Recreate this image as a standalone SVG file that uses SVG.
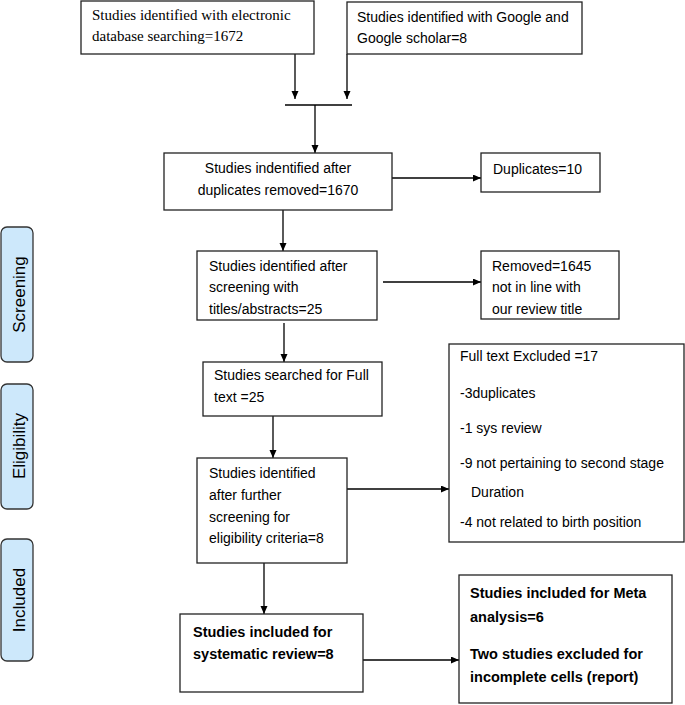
<svg xmlns="http://www.w3.org/2000/svg" width="685" height="705" viewBox="0 0 685 705">
<style>
.box{fill:#fff;stroke:#222;stroke-width:1.3}
.lbl{fill:#cde8fb;stroke:#333;stroke-width:1.3}
.t{font-family:"Liberation Sans",Arial,sans-serif;font-size:14px;fill:#000}
.s{font-family:"Liberation Serif","Times New Roman",serif;font-size:15px;fill:#000}
.b{font-family:"Liberation Sans",Arial,sans-serif;font-size:14.5px;font-weight:bold;fill:#000}
.side{font-family:"Liberation Sans",Arial,sans-serif;font-size:17px;fill:#000}
.c{fill:none;stroke:#000;stroke-width:1.3}
</style>
<defs>
<marker id="ah" markerUnits="userSpaceOnUse" markerWidth="9" markerHeight="8" refX="8" refY="3.5" orient="auto">
<path d="M0,0 L8,3.5 L0,7 z" fill="#000"/>
</marker>
</defs>
<rect width="685" height="705" fill="#fff"/>
<g id="side-labels">
<g id="lbl-screening"><rect class="lbl" x="1" y="227" width="32" height="135" rx="6"/><text class="side" transform="translate(25,294.5) rotate(-90)" text-anchor="middle">Screening</text></g>
<g id="lbl-eligibility"><rect class="lbl" x="1" y="384" width="32" height="125" rx="6"/><text class="side" transform="translate(25,446) rotate(-90)" text-anchor="middle">Eligibility</text></g>
<g id="lbl-included"><rect class="lbl" x="1" y="539" width="32" height="122" rx="6"/><text class="side" transform="translate(25,600) rotate(-90)" text-anchor="middle">Included</text></g>
</g>
<g id="connectors">
<line class="c" x1="295" y1="54" x2="295" y2="99" marker-end="url(#ah)"/>
<line class="c" x1="347" y1="54" x2="347" y2="99" marker-end="url(#ah)"/>
<line class="c" x1="285" y1="105" x2="352" y2="105"/>
<line class="c" x1="315" y1="105" x2="315" y2="153" marker-end="url(#ah)"/>
<line class="c" x1="392" y1="178" x2="481" y2="178" marker-end="url(#ah)"/>
<line class="c" x1="283" y1="210" x2="283" y2="251" marker-end="url(#ah)"/>
<line class="c" x1="383" y1="282" x2="481" y2="282" marker-end="url(#ah)"/>
<line class="c" x1="284" y1="323" x2="284" y2="362" marker-end="url(#ah)"/>
<line class="c" x1="273" y1="416" x2="273" y2="458" marker-end="url(#ah)"/>
<line class="c" x1="347" y1="489" x2="449" y2="489" marker-end="url(#ah)"/>
<line class="c" x1="264" y1="563" x2="264" y2="614" marker-end="url(#ah)"/>
<line class="c" x1="363" y1="660" x2="459" y2="660" marker-end="url(#ah)"/>
</g>
<g id="n-electronic"><rect class="box" x="81" y="1" width="233" height="53"/>
<text class="s" x="92" y="20">Studies identified with electronic</text>
<text class="s" x="92" y="41">database searching=1672</text></g>
<g id="n-google"><rect class="box" x="347" y="2" width="235" height="52"/>
<text class="t" x="357" y="22">Studies identified with Google and</text>
<text class="t" x="357" y="43">Google scholar=8</text></g>
<g id="n-dedup"><rect class="box" x="164" y="153" width="228" height="57"/>
<text class="t" x="278" y="173" text-anchor="middle">Studies indentified after</text>
<text class="t" x="278" y="195" text-anchor="middle">duplicates removed=1670</text></g>
<g id="n-duplicates"><rect class="box" x="481" y="153" width="119" height="39"/>
<text class="t" x="493" y="174">Duplicates=10</text></g>
<g id="n-screen"><rect class="box" x="197" y="251" width="180" height="69"/>
<text class="t" x="209" y="271">Studies identified after</text>
<text class="t" x="209" y="292">screening with</text>
<text class="t" x="209" y="314">titles/abstracts=25</text></g>
<g id="n-removed"><rect class="box" x="481" y="251" width="138" height="68"/>
<text class="t" x="492" y="271">Removed=1645</text>
<text class="t" x="492" y="292">not in line with</text>
<text class="t" x="492" y="314">our review title</text></g>
<g id="n-fulltext"><rect class="box" x="203" y="362" width="179" height="54"/>
<text class="t" x="214" y="380">Studies searched for Full</text>
<text class="t" x="214" y="402">text =25</text></g>
<g id="n-eligible"><rect class="box" x="197" y="458" width="150" height="105"/>
<text class="t" x="209" y="478">Studies identified</text>
<text class="t" x="209" y="500">after further</text>
<text class="t" x="209" y="522">screening for</text>
<text class="t" x="209" y="543">eligibility criteria=8</text></g>
<g id="n-excluded"><rect class="box" x="449" y="344" width="235" height="198"/>
<text class="t" x="460" y="361">Full text Excluded =17</text>
<text class="t" x="460" y="398">-3duplicates</text>
<text class="t" x="460" y="433">-1 sys review</text>
<text class="t" x="460" y="468">-9 not pertaining to second stage</text>
<text class="t" x="471" y="497">Duration</text>
<text class="t" x="460" y="527">-4 not related to birth position</text></g>
<g id="n-systematic"><rect class="box" x="180" y="614" width="183" height="78"/>
<text class="b" x="193" y="637">Studies included for</text>
<text class="b" x="193" y="659">systematic review=8</text></g>
<g id="n-meta"><rect class="box" x="459" y="575" width="213" height="128"/>
<text class="b" x="470" y="598">Studies included for Meta</text>
<text class="b" x="470" y="622">analysis=6</text>
<text class="b" x="470" y="659">Two studies excluded for</text>
<text class="b" x="470" y="682">incomplete cells (report)</text></g>
</svg>
